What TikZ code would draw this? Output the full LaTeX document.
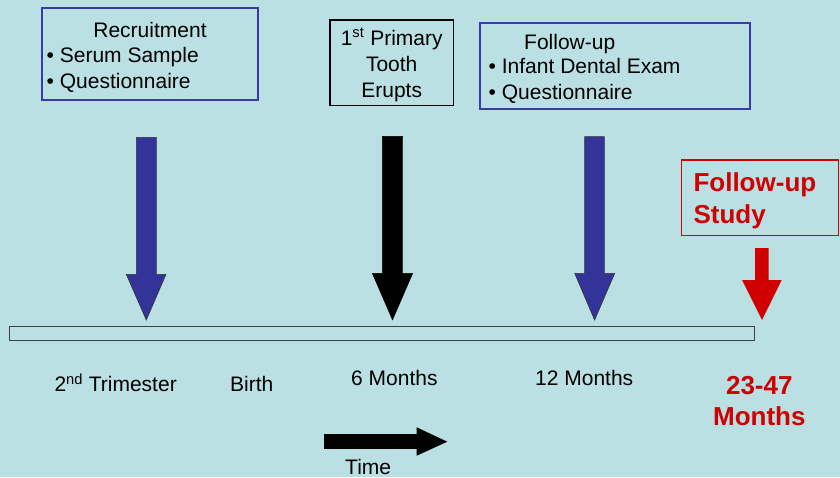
\documentclass[tikz,border=0pt]{standalone}
\usepackage{fontspec}
\setmainfont{Liberation Sans}
\definecolor{bgc}{HTML}{BBE0E3}
\definecolor{navy}{HTML}{333399}
\definecolor{boxblue}{HTML}{3A3AAA}
\definecolor{darkred}{HTML}{D00000}
\begin{document}
\begin{tikzpicture}[x=1pt,y=-1pt,
  txt/.style={inner sep=0pt,font=\fontsize{21}{25}\selectfont},
  redtxt/.style={inner sep=0pt,font=\fontsize{26}{30}\selectfont\bfseries,text=darkred},
  bluebox/.style={draw=boxblue,line width=1.8pt},
  blackbox/.style={draw=black,line width=1.1pt},
  redbox/.style={draw=darkred,line width=1.5pt},
  bluearrow/.style={fill=navy,draw=black!80,line width=0.6pt},
  blackarrow/.style={fill=black,draw=black},
  redarrow/.style={fill=darkred},
]
\fill[bgc] (0,0) rectangle (840,477);
\useasboundingbox (0,0) rectangle (840,477);

% boxes
\draw[bluebox] (41.7,8.3) rectangle (257.7,100);
\node[txt,anchor=base] (rec) at (150,37) {Recruitment};
\node[txt,anchor=base west] (ss) at (46.5,62) {\textbullet\ Serum Sample};
\node[txt,anchor=base west] (q1) at (46.5,88) {\textbullet\ Questionnaire};

\draw[blackbox] (330,20) rectangle (453.3,105.7);
\node[txt,anchor=base] (fp) at (391.7,45) {1\textsuperscript{st} Primary};
\node[txt,anchor=base] (to) at (391.7,71.5) {Tooth};
\node[txt,anchor=base] (er) at (391.7,97) {Erupts};

\draw[bluebox] (480.3,23.3) rectangle (750.3,109);
\node[txt,anchor=base west] (fu) at (524,49.3) {Follow-up};
\node[txt,anchor=base west] (ide) at (488.5,73.5) {\textbullet\ Infant Dental Exam};
\node[txt,anchor=base west] (q2) at (488.5,99.3) {\textbullet\ Questionnaire};

\draw[redbox] (681.7,160) rectangle (838.5,235.7);
\node[redtxt,anchor=base west] (fus) at (693.3,191.7) {Follow-up};
\node[redtxt,anchor=base west] (st) at (693.3,223.3) {Study};

% arrows
\draw[bluearrow] (136.3,137.3) -- (156.3,137.3) -- (156.3,274.3) -- (166,274.3)
  -- (146.3,320) -- (126.3,274.3) -- (136.3,274.3) -- cycle;
\draw[blackarrow] (382.3,136.3) -- (402.7,136.3) -- (402.7,273.3) -- (412.7,273.3)
  -- (392.5,320) -- (372.3,273.3) -- (382.3,273.3) -- cycle;
\draw[bluearrow] (584.7,136.7) -- (604.3,136.7) -- (604.3,273.3) -- (614.7,273.3)
  -- (594.6,320) -- (574.7,273.3) -- (584.7,273.3) -- cycle;
\fill[redarrow] (755,248) -- (768.7,248) -- (768.7,280) -- (781.7,280)
  -- (762,320) -- (742,280) -- (755,280) -- cycle;

% timeline bar
\draw[draw=black!75,line width=1pt] (9.3,326.7) rectangle (754.3,340.7);

% labels
\node[txt,anchor=base west] (tri) at (54.3,391.7) {2\textsuperscript{nd} Trimester};
\node[txt,anchor=base west] (bi) at (230,391.7) {Birth};
\node[txt,anchor=base west] (m6) at (351,385.7) {6 Months};
\node[txt,anchor=base west] (m12) at (535,385.7) {12 Months};
\node[redtxt,anchor=base] (r1) at (759.3,394) {23-47};
\node[redtxt,anchor=base] (r2) at (759.3,425) {Months};

% time arrow
\fill[black] (324,434) -- (416.7,434) -- (416.7,427.3) -- (447.3,441.7)
  -- (416.7,455.7) -- (416.7,448.8) -- (324,448.8) -- cycle;
\node[txt,anchor=base west] (time) at (345,474) {Time};
\end{tikzpicture}
\end{document}
